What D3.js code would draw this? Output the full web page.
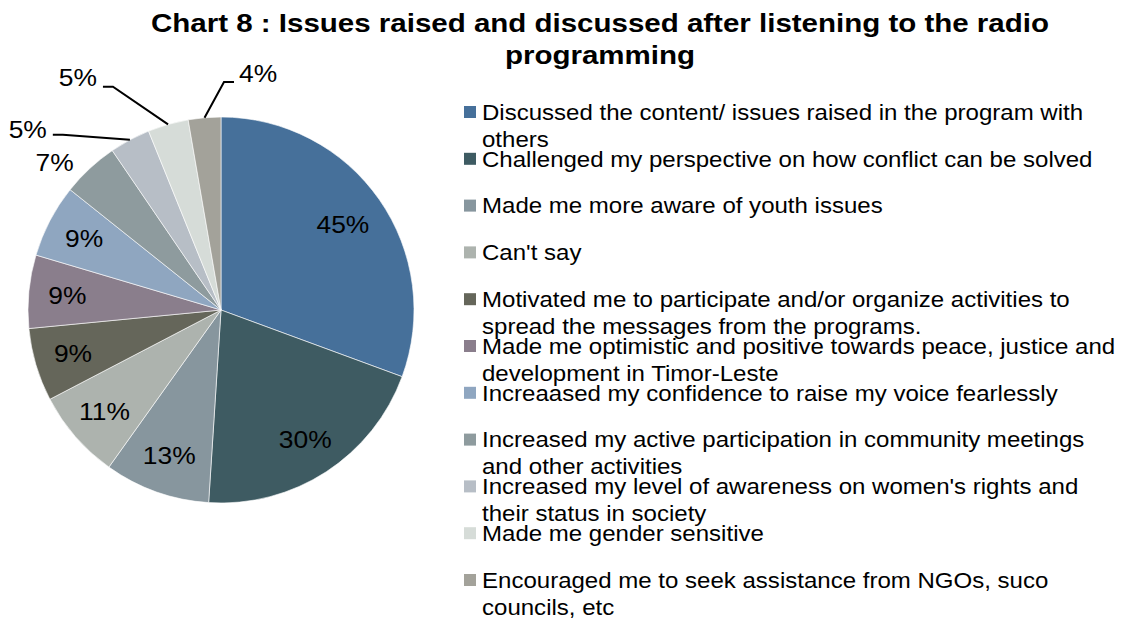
<!DOCTYPE html>
<html>
<head>
<meta charset="utf-8">
<script src="https://cdn.jsdelivr.net/npm/d3@7"></script>
<style>
  body { margin: 0; background: #ffffff; }
  text { font-family: "Liberation Sans", Arial, sans-serif; fill: #000; }
</style>
</head>
<body>
<svg id="chart" width="1124" height="621"></svg>
<script>
// Responses to "Issues raised and discussed after listening to the radio programming"
const categories = [
  "Discussed the content/ issues raised in the program with\nothers",
  "Challenged my perspective on how conflict can be solved",
  "Made me more aware of youth issues",
  "Can't say",
  "Motivated me to participate and/or organize activities to\nspread the messages from the programs.",
  "Made me optimistic and positive towards peace, justice and\ndevelopment in Timor-Leste",
  "Increaased my confidence to raise my voice fearlessly",
  "Increased my active participation in community meetings\nand other activities",
  "Increased my level of awareness on women's rights and\ntheir status in society",
  "Made me gender sensitive",
  "Encouraged me to seek assistance from NGOs, suco\ncouncils, etc"
];
const values = [45, 30, 13, 11, 9, 9, 9, 7, 5, 5, 4];
const colors = ["#46709a", "#3e5b62", "#87969e", "#adb3ae", "#65665a",
                "#8a7e8c", "#8fa6c0", "#8e9b9e", "#b7bec6", "#d6dcd8", "#a3a29a"];
const titleLines = ["Chart 8 : Issues raised and discussed after listening to the radio",
                    "programming"];

const svg = d3.select("#chart");
const cx = 221, cy = 310, R = 193;
const wide = 1.1;   // horizontal stretch of the text glyphs

// Title
svg.append("g").selectAll("text").data(titleLines).join("text")
  .attr("transform", (d, i) => `translate(600,${32 + i * 32}) scale(1.18,1)`)
  .attr("text-anchor", "middle")
  .style("font-size", "25px").style("font-weight", "bold")
  .text(d => d);

// Pie
const pie = d3.pie().sort(null).value(d => d);
const arcs = pie(values);
const arc = d3.arc().innerRadius(0).outerRadius(R);
const g = svg.append("g").attr("transform", `translate(${cx},${cy})`);
g.selectAll("path").data(arcs).join("path")
  .attr("d", arc)
  .attr("fill", (d, i) => colors[i])
  .attr("stroke", "#ffffff").attr("stroke-width", 0.6);

const pct = v => v + "%";
const polar = (a, r) => [r * Math.sin(a), -r * Math.cos(a)];
const mid = d => (d.startAngle + d.endAngle) / 2;

// Labels inside the larger slices
const inner = arcs.filter((d, i) => i < 7);
g.selectAll("text.in").data(inner).join("text")
  .attr("class", "in")
  .attr("transform", (d, i) => {
    const p = polar(mid(d), R * (i === 0 ? 0.77 : 0.8));
    return `translate(${p[0]},${p[1]}) scale(${wide},1)`;
  })
  .attr("text-anchor", "middle").attr("dy", "0.35em")
  .style("font-size", "24px")
  .text(d => pct(d.data));

// Outside labels for the small slices
// ang/r: elbow (or label) angle offset from slice middle and radius; lx/ly: label offset from leader end
const outside = [
  { i: 7, ang: -0.0995, r: 222, leader: false, anchor: "middle", lx: 0, ly: 0 },
  { i: 8, ang: -0.243, r: 236, leader: true, anchor: "end", lx: -6, ly: -5.5 },
  { i: 9, ang: -0.173, r: 248, leader: true, anchor: "end", lx: -6, ly: -9 },
  { i: 10, ang: 0.0986, r: 228, leader: true, anchor: "start", lx: 5, ly: -8.5 }
];
outside.forEach(o => {
  const d = arcs[o.i];
  const a = mid(d);
  let lp = polar(a + o.ang, o.r);
  if (o.leader) {
    const p0 = polar(a, R);
    const p1 = lp;
    const dir = o.anchor === "end" ? -1 : 1;
    const p2 = [p1[0] + dir * 10, p1[1]];
    g.append("polyline")
      .attr("points", [p0, p1, p2].map(p => p.join(",")).join(" "))
      .attr("fill", "none").attr("stroke", "#000").attr("stroke-width", 2);
    lp = p2;
  }
  g.append("text")
    .attr("transform", `translate(${lp[0] + o.lx},${lp[1] + o.ly}) scale(${wide},1)`)
    .attr("dy", "0.35em")
    .attr("text-anchor", o.anchor)
    .style("font-size", "24px")
    .text(pct(d.data));
});

// Legend
const legend = svg.append("g").attr("transform", "translate(464,0)");
const rowY = d3.scaleLinear().domain([0, categories.length - 1]).range([112, 580]);
const items = legend.selectAll("g").data(categories).join("g")
  .attr("transform", (d, i) => `translate(0,${rowY(i)})`);
items.append("rect")
  .attr("x", 0).attr("y", -6).attr("width", 12).attr("height", 12)
  .attr("fill", (d, i) => colors[i]);
items.append("text")
  .attr("transform", "translate(18,0) scale(1.093,1)")
  .style("font-size", "22px")
  .selectAll("tspan").data(d => d.split("\n")).join("tspan")
  .attr("x", 0).attr("dy", (d, j) => j === 0 ? "0.35em" : "27px")
  .text(d => d);
</script>
</body>
</html>
